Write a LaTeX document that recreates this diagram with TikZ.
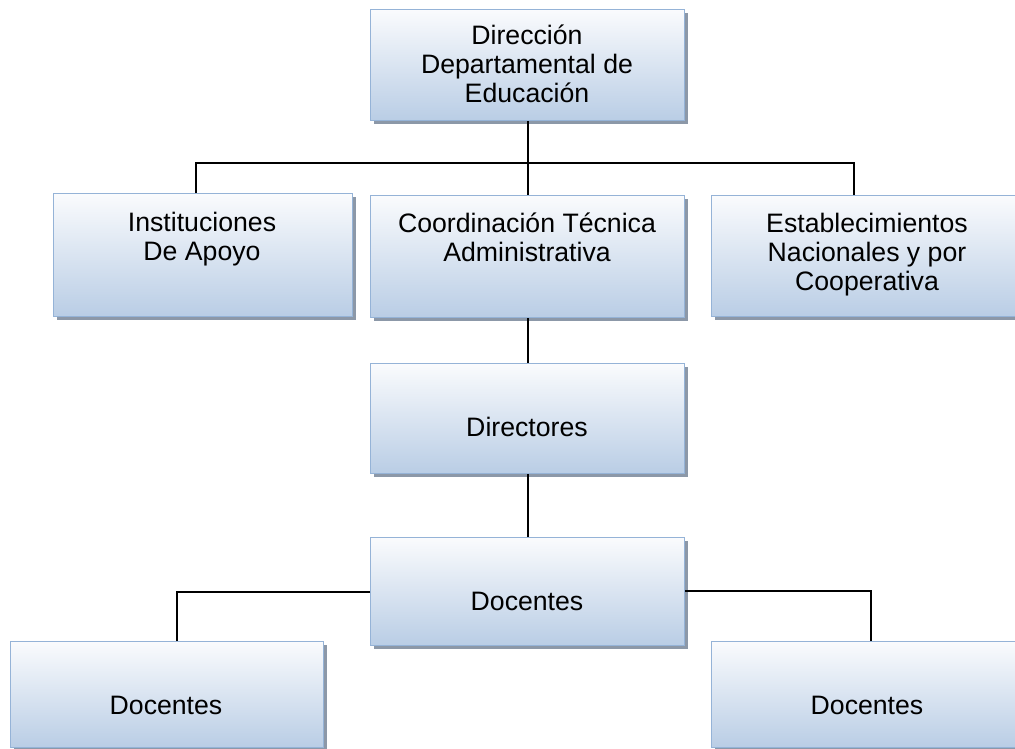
\documentclass[tikz,border=0pt]{standalone}
\usepackage{fontspec}
\setmainfont{Liberation Sans}
\usetikzlibrary{shadows}
\definecolor{boxborder}{RGB}{149,179,215}
\definecolor{boxtop}{RGB}{250,251,253}
\definecolor{boxbot}{RGB}{185,205,229}
\definecolor{shadowgray}{RGB}{140,152,168}
\begin{document}
\begin{tikzpicture}[x=0.75pt,y=-0.75pt,
  orgbox/.style={draw=boxborder, line width=1.1pt, top color=boxtop, bottom color=boxbot,
    drop shadow={shadow xshift=2.5pt, shadow yshift=-2.5pt, fill=shadowgray, opacity=1},
    inner sep=0pt, anchor=north west},
  lbl/.style={font=\fontsize{20}{21.75}\selectfont, align=center, anchor=base, inner sep=0pt},
  conn/.style={line width=1.5pt, black}]
\path[use as bounding box] (0,0) rectangle (1015,749);

% boxes
\node[orgbox, minimum width=235.5pt, minimum height=83.25pt] (top) at (370,9) {};
\node[orgbox, minimum width=224.25pt, minimum height=92.25pt] (inst) at (53,193) {};
\node[orgbox, minimum width=235.5pt, minimum height=91.5pt] (coord) at (370,195) {};
\node[orgbox, minimum width=234pt, minimum height=90.75pt] (est) at (711,195) {};
\node[orgbox, minimum width=235.5pt, minimum height=82.5pt] (dir) at (370,363) {};
\node[orgbox, minimum width=235.5pt, minimum height=81pt] (doc) at (370,537) {};
\node[orgbox, minimum width=234.75pt, minimum height=79.5pt] (docL) at (10,641) {};
\node[orgbox, minimum width=234pt, minimum height=79.5pt] (docR) at (711,641) {};

% texts (anchor base = baseline of the last line)
\node[lbl] (topT) at (527,103) {Dirección\\Departamental de\\Educación};
\node[lbl] (instT) at (202,260) {Instituciones\\De Apoyo};
\node[lbl] (coordT) at (527,261) {Coordinación Técnica\\Administrativa};
\node[lbl] (estT) at (867,290) {Establecimientos\\Nacionales y por\\Cooperativa};
\node[lbl] (dirT) at (527,436) {Directores};
\node[lbl] (docT) at (527,610) {Docentes};
\node[lbl] (docLT) at (166,714) {Docentes};
\node[lbl] (docRT) at (867,714) {Docentes};

% connectors
\coordinate (jL) at (196,163);
\coordinate (jR) at (854,163);
\coordinate (kL) at (177,592);
\coordinate (kR) at (871,591);
\draw[conn] (top.south) -- (coord.north);
\draw[conn] (inst.north -| jL) -- (jL) -- (jR) -- (est.north -| jR);
\draw[conn] (coord.south) -- (dir.north);
\draw[conn] (dir.south) -- (doc.north);
\draw[conn] (doc.west |- kL) -- (kL) -- (docL.north -| kL);
\draw[conn] (doc.east |- kR) -- (kR) -- (docR.north -| kR);
\end{tikzpicture}
\end{document}
